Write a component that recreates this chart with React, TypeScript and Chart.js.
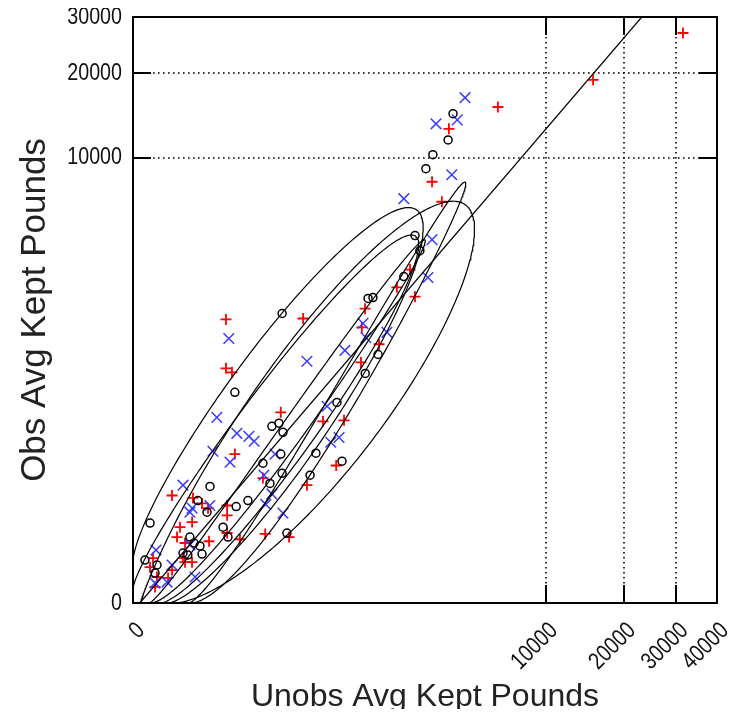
import React, { useEffect, useRef } from 'react';
import { Chart, registerables, LinearScale } from 'chart.js';

// ---- data (pounds) ----
const blackX = [3607, 3390, 2780, 2530, 2175, 2330, 1850, 1050, 1140, 1240, 1000, 595, 656, 385, 338, 170, 37, 128, 156, 174, 98, 164, 170, 121, 193, 12.1, 60, 39, 6.1, 10.3, 22.6, 28, 3.6, 4.8, 6.9, 7.8, 3.1, 0.029, 0.007, 0.114, 0.081, 2.15];
const blackY = [14590, 11700, 10280, 9050, 4635, 3920, 2890, 2190, 2215, 970, 707, 412, 103, 128, 68, 1787, 501, 248, 266, 216, 97, 125, 72, 52, 6.1, 47, 28, 22, 28, 17.3, 8.4, 4.8, 4.8, 3.3, 2.7, 1.46, 1.34, 10.4, 0.86, 0.53, 0.205, 1.58];

const redX = [31470, 15400, 6100, 3425, 2750, 3130, 2025, 1667, 2175, 997, 943, 1260, 929, 288, 448, 682, 586, 25.7, 25.7, 33, 164, 37, 98, 315, 204, 105, 0.8, 4.45, 7.8, 10.9, 27, 27, 4.2, 1.68, 1.29, 2.52, 11.5, 45, 27, 0.055, 0.029, 0.114, 0.081, 0.8, 2.15, 2.52, 4.17, 0.52];
const redY = [26860, 19060, 15400, 12860, 8010, 6595, 3146, 2527, 2240, 1910, 1467, 1140, 852, 1667, 277, 283, 91, 1646, 771, 720, 336, 125, 62, 49, 4.8, 5.8, 34, 31, 25, 20.6, 23, 15, 10.9, 8.4, 4.8, 3.3, 3.7, 4.2, 6.1, 1.04, 0.42, 0.116, 0.017, 0.3, 1.04, 0.71, 0.71, 0.1];

const blueX = [4180, 2900, 3800, 3550, 1850, 2750, 2600, 962, 1012, 1430, 693, 315, 488, 526, 620, 29, 17, 40, 62, 74, 14, 30.5, 140, 101, 128, 107, 174, 2.15, 4.2, 3.6, 12, 3.6, 0.096, 0.46, 0.8, 5.1, 0.081];
const blueY = [16590, 13410, 13860, 8560, 6800, 4435, 2855, 1555, 1262, 1366, 1035, 869, 381, 170, 191, 1245, 302, 211, 196, 174, 135, 100, 125, 68, 36, 24, 16.6, 49, 20.6, 17.3, 23, 2.9, 2.0, 0.049, 0.53, 0.116, 0.04];

// reference line (pounds), end points
const lineX = [0.00076, 23040];
const lineY = [0, 30000];

// ellipses, defined in sixth-root-of-pounds space
const ELLIPSE_ROOT = 6;
const ellipseCx = [2.202, 0.669, 0.813, 2.63, 2.118];
const ellipseCy = [2.047, 0.739, 0.743, 2.235, 2.026];
const ellipseA = [2.9, 4.6, 4.35, 2.63, 2.56];
const ellipseB = [0.62, 0.66, 0.45, 0.12, 0.12];
const ellipseAngle = [51, 50, 50, 58.2, 52.3];

const xTicks = [0, 10000, 20000, 30000, 40000];
const yTicks = [0, 10000, 20000, 30000];
const xGrid = [10000, 20000, 30000];
const yGrid = [10000, 20000];

const root4 = (v: number) => Math.sign(v) * Math.pow(Math.abs(v), 0.25);
const pow4 = (r: number) => Math.sign(r) * Math.pow(Math.abs(r), 4);
const powE = (r: number) => Math.sign(r) * Math.pow(Math.abs(r), ELLIPSE_ROOT);

class RootScale extends LinearScale {
  static id = 'root4';
  getPixelForValue(value: number) {
    const lo = root4(this.min), hi = root4(this.max);
    return this.getPixelForDecimal((root4(value) - lo) / (hi - lo));
  }
  getValueForPixel(pixel: number) {
    const lo = root4(this.min), hi = root4(this.max);
    return pow4(lo + this.getDecimalForPixel(pixel) * (hi - lo));
  }
}
Chart.register(...registerables, RootScale);

function ellipsePoints(i: number) {
  const pts: { x: number; y: number }[] = [];
  const th = (ellipseAngle[i] * Math.PI) / 180;
  const n = 360;
  for (let k = 0; k <= n; k++) {
    const t = (k / n) * 2 * Math.PI;
    const xr = ellipseCx[i] + ellipseA[i] * Math.cos(th) * Math.cos(t) - ellipseB[i] * Math.sin(th) * Math.sin(t);
    const yr = ellipseCy[i] + ellipseA[i] * Math.sin(th) * Math.cos(t) + ellipseB[i] * Math.cos(th) * Math.sin(t);
    pts.push({ x: powE(xr), y: powE(yr) });
  }
  return pts;
}

const zip = (xs: number[], ys: number[]) => xs.map((x, i) => ({ x, y: ys[i] }));

const TICK_FONT = "24px 'Liberation Sans', Arial, sans-serif";
const CONDENSE = 0.82;

const framePlugin = {
  id: 'frame',
  beforeDatasetsDraw(chart: any) {
    const { ctx, chartArea, scales } = chart;
    const { left, right, top, bottom } = chartArea;
    ctx.save();
    ctx.strokeStyle = '#000';
    ctx.lineWidth = 1.6;
    ctx.setLineDash([1.6, 3.4]);
    for (const v of xGrid) {
      const px = Math.round(scales.x.getPixelForValue(v));
      ctx.beginPath();
      ctx.moveTo(px, top);
      ctx.lineTo(px, bottom);
      ctx.stroke();
    }
    for (const v of yGrid) {
      const py = Math.round(scales.y.getPixelForValue(v));
      ctx.beginPath();
      ctx.moveTo(left, py);
      ctx.lineTo(right, py);
      ctx.stroke();
    }
    ctx.restore();
  },
  afterDatasetsDraw(chart: any) {
    const { ctx, chartArea, scales } = chart;
    const { left, right, top, bottom } = chartArea;
    ctx.save();
    ctx.strokeStyle = '#000';
    ctx.setLineDash([]);
    ctx.lineWidth = 2;
    const tl = 18;
    ctx.beginPath();
    for (const v of xGrid) {
      const px = Math.round(scales.x.getPixelForValue(v));
      ctx.moveTo(px, bottom);
      ctx.lineTo(px, bottom - tl);
      ctx.moveTo(px, top);
      ctx.lineTo(px, top + tl);
    }
    for (const v of yGrid) {
      const py = Math.round(scales.y.getPixelForValue(v));
      ctx.moveTo(left, py);
      ctx.lineTo(left + tl, py);
      ctx.moveTo(right, py);
      ctx.lineTo(right - tl, py);
    }
    ctx.stroke();
    ctx.strokeRect(left, top, right - left, bottom - top);

    ctx.fillStyle = '#111';
    ctx.font = TICK_FONT;
    ctx.textAlign = 'right';
    ctx.textBaseline = 'middle';
    for (const v of yTicks) {
      const py = scales.y.getPixelForValue(v);
      ctx.save();
      ctx.translate(left - 11, py);
      ctx.scale(CONDENSE, 1);
      ctx.fillText(String(v), 0, 0);
      ctx.restore();
    }
    for (const v of xTicks) {
      const px = scales.x.getPixelForValue(v);
      ctx.save();
      ctx.translate(px + 8, bottom + 24);
      ctx.rotate(-Math.PI / 4);
      ctx.scale(CONDENSE, 1);
      ctx.fillText(String(v), 0, 0);
      ctx.restore();
    }
    ctx.restore();
  },
};

const xTitleFont = { family: "'Liberation Sans', Arial, sans-serif", size: 32, lineHeight: 1 };
const yTitleFont = { family: "'Liberation Sans', Arial, sans-serif", size: 35, lineHeight: 1 };

export default function App() {
  const ref = useRef<HTMLCanvasElement>(null);
  useEffect(() => {
    if (!ref.current) return;
    const ellipseSets = ellipseCx.map((_, i) => ({
      type: 'scatter' as const,
      data: ellipsePoints(i),
      showLine: true,
      borderColor: '#000',
      borderWidth: 1.2,
      pointRadius: 0,
      fill: false,
      tension: 0,
    }));
    const fitX = (s: any) => {
      s.height = 106;
      s.paddingLeft = 0; s.paddingRight = 0; s.paddingTop = 0; s.paddingBottom = 0;
    };
    const fitY = (s: any) => {
      s.width = 125;
      s.paddingLeft = 0; s.paddingRight = 0; s.paddingTop = 0; s.paddingBottom = 0;
    };
    const chart = new Chart(ref.current, {
      type: 'scatter',
      data: {
        datasets: [
          ...ellipseSets,
          {
            data: zip(lineX, lineY),
            showLine: true,
            borderColor: '#000',
            borderWidth: 1.2,
            pointRadius: 0,
          },
          {
            data: zip(blackX, blackY),
            pointStyle: 'circle',
            pointRadius: 4,
            borderColor: '#000',
            backgroundColor: 'rgba(0,0,0,0)',
            pointBorderWidth: 1.5,
          },
          {
            data: zip(blueX, blueY),
            pointStyle: 'crossRot',
            pointRadius: 7.5,
            borderColor: '#3b3bff',
            pointBorderWidth: 1.5,
          },
          {
            data: zip(redX, redY),
            pointStyle: 'cross',
            pointRadius: 5.5,
            borderColor: '#ff0000',
            pointBorderWidth: 1.8,
          },
        ] as any,
      },
      options: {
        animation: false,
        responsive: false,
        layout: { padding: { left: 0, right: 13, top: 9, bottom: 0 } },
        plugins: { legend: { display: false }, tooltip: { enabled: false } },
        scales: {
          x: {
            type: 'root4' as any,
            min: 0,
            max: 40000,
            afterBuildTicks: (s: any) => {
              s.ticks = xTicks.map((v) => ({ value: v }));
            },
            afterFit: fitX,
            grid: { display: false, drawTicks: false },
            border: { display: false },
            ticks: { display: false },
            title: {
              display: true,
              text: 'Unobs Avg Kept Pounds',
              color: '#222',
              font: xTitleFont,
              padding: { top: 0, bottom: -4 },
            },
          },
          y: {
            type: 'root4' as any,
            min: 0,
            max: 30000,
            afterBuildTicks: (s: any) => {
              s.ticks = yTicks.map((v) => ({ value: v }));
            },
            afterFit: fitY,
            grid: { display: false, drawTicks: false },
            border: { display: false },
            ticks: { display: false },
            title: {
              display: true,
              text: 'Obs Avg Kept Pounds',
              color: '#222',
              font: yTitleFont,
              padding: { top: 10, bottom: 0 },
            },
          },
        },
      },
      plugins: [framePlugin],
    });
    return () => chart.destroy();
  }, []);
  return (
    <div style={{ width: 722, height: 701 }}>
      <canvas ref={ref} width={722} height={701} style={{ display: 'block' }} />
    </div>
  );
}
